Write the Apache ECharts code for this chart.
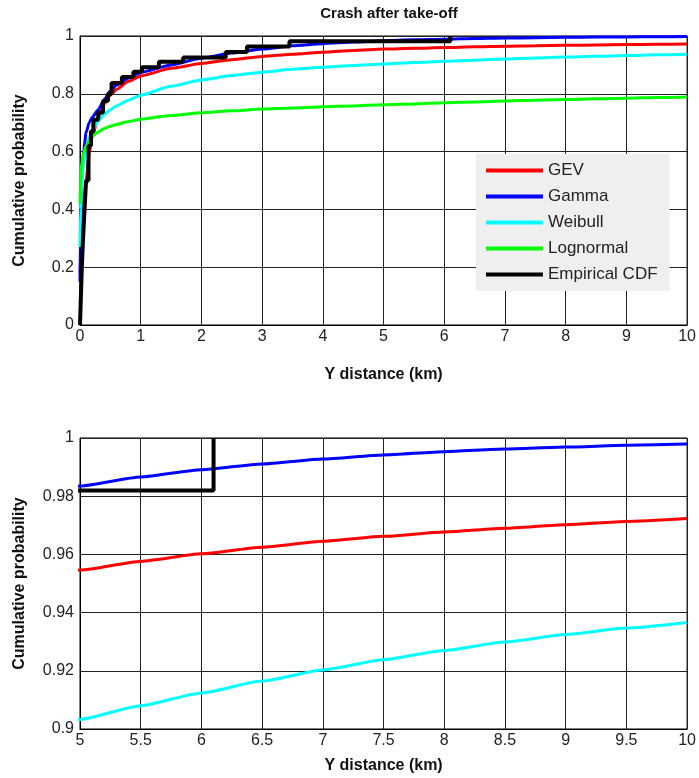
<!DOCTYPE html>
<html>
<head>
<meta charset="utf-8">
<script src="https://cdn.jsdelivr.net/npm/echarts@6/dist/echarts.min.js"></script>
<style>
  html, body { margin: 0; padding: 0; background: #fff; }
  #main { width: 699px; height: 778px; }
</style>
</head>
<body>
<div id="main"></div>
<script>
var xs = [0, 0.01, 0.03, 0.06, 0.1, 0.15, 0.2, 0.3, 0.4, 0.5, 0.6, 0.8, 1, 1.5, 2, 2.5, 3, 3.5, 4, 4.5, 5, 5.5, 6, 6.5, 7, 7.5, 8, 8.5, 9, 9.5, 10];

var gev = [0.18, 0.22, 0.3, 0.4, 0.5, 0.59, 0.65, 0.72, 0.765, 0.795, 0.815, 0.843, 0.862, 0.888, 0.905, 0.918, 0.929, 0.937, 0.944, 0.95, 0.9546, 0.9576, 0.9602, 0.9625, 0.9645, 0.9662, 0.9677, 0.969, 0.9702, 0.9713, 0.9723];
var gamma = [0.15, 0.35, 0.5, 0.6, 0.665, 0.7, 0.718, 0.745, 0.78, 0.81, 0.83, 0.855, 0.874, 0.9, 0.923, 0.941, 0.955, 0.966, 0.9735, 0.979, 0.9835, 0.9866, 0.9891, 0.9911, 0.9928, 0.9942, 0.9953, 0.9962, 0.9969, 0.9975, 0.9979];
var weibull = [0.27, 0.4, 0.5, 0.56, 0.61, 0.648, 0.672, 0.705, 0.728, 0.745, 0.758, 0.778, 0.795, 0.826, 0.848, 0.863, 0.875, 0.885, 0.892, 0.898, 0.9033, 0.908, 0.9124, 0.9165, 0.9203, 0.9238, 0.927, 0.9299, 0.9325, 0.9347, 0.9366];
var lognormal = [0.42, 0.5, 0.56, 0.595, 0.62, 0.638, 0.652, 0.668, 0.68, 0.688, 0.694, 0.704, 0.712, 0.725, 0.734, 0.741, 0.747, 0.751, 0.755, 0.758, 0.762, 0.765, 0.769, 0.772, 0.775, 0.778, 0.78, 0.783, 0.785, 0.787, 0.789];

// empirical CDF: jump location and value after the jump
var ecdfX = [0, 0.03, 0.05, 0.08, 0.1, 0.14, 0.18, 0.22, 0.3, 0.38, 0.46, 0.52, 0.69, 0.88, 1.02, 1.3, 1.7, 2.4, 2.75, 3.45, 6.1];
var ecdfY = [0, 0.2, 0.3, 0.42, 0.5, 0.62, 0.67, 0.71, 0.735, 0.775, 0.8, 0.837, 0.858, 0.876, 0.892, 0.911, 0.926, 0.945, 0.964, 0.982, 1];

var topTicks = { min: 0, max: 10, interval: 1 };
var bottomTicks = { min: 5, max: 10, interval: 0.5 };

var names = ['GEV', 'Gamma', 'Weibull', 'Lognormal', 'Empirical CDF'];
var colors = ['#ff0000', '#0000ff', '#00ffff', '#00ff00', '#000000'];

function pairs(xArr, yArr) {
  var out = [];
  for (var i = 0; i < xArr.length; i++) out.push([xArr[i], yArr[i]]);
  return out;
}

var fits = [gev, gamma, weibull, lognormal];
var labelFont = { fontFamily: 'Liberation Sans', fontSize: 16, color: '#222' };
var nameFont = { fontFamily: 'Liberation Sans', fontSize: 16, fontWeight: 'bold', color: '#111' };

function makeSeries(idx) {
  var list = [];
  fits.forEach(function (arr, i) {
    list.push({
      name: names[i],
      type: 'line',
      xAxisIndex: idx,
      yAxisIndex: idx,
      data: pairs(xs, arr),
      showSymbol: false,
      smooth: 0.2,
      smoothMonotone: 'x',
      color: colors[i],
      lineStyle: { width: 3, color: colors[i] },
      z: 2 + i,
      silent: true
    });
  });
  list.push({
    name: names[4],
    type: 'line',
    xAxisIndex: idx,
    yAxisIndex: idx,
    data: pairs(ecdfX, ecdfY),
    step: 'end',
    showSymbol: false,
    color: colors[4],
    lineStyle: { width: 4, color: colors[4] },
    z: 10,
    silent: true
  });
  return list;
}

function xAxisOf(idx, ticks, gap) {
  return {
    type: 'value', gridIndex: idx, min: ticks.min, max: ticks.max, interval: ticks.interval,
    name: 'Y distance (km)', nameLocation: 'middle', nameGap: gap, nameTextStyle: nameFont,
    axisLine: { show: true, lineStyle: { color: '#000', width: 1 } },
    axisTick: { show: false },
    axisLabel: Object.assign({ margin: 4 }, labelFont),
    splitLine: { show: true, lineStyle: { color: '#222', width: 1 } }
  };
}

function yAxisOf(idx, min, max, interval) {
  return {
    type: 'value', gridIndex: idx, min: min, max: max, interval: interval,
    name: 'Cumulative probability', nameLocation: 'middle', nameGap: 52, nameRotate: 90,
    nameTextStyle: nameFont,
    axisLine: { show: true, lineStyle: { color: '#000', width: 1 } },
    axisTick: { show: false },
    axisLabel: Object.assign({ margin: 6 }, labelFont),
    splitLine: { show: true, lineStyle: { color: '#222', width: 1 } }
  };
}

var chart = echarts.init(document.getElementById('main'), null, { renderer: 'canvas' });
chart.setOption({
  animation: false,
  backgroundColor: '#fff',
  title: {
    text: 'Crash after take-off',
    left: 384, top: 1, textAlign: 'center',
    textStyle: { fontFamily: 'Liberation Sans', fontSize: 15, fontWeight: 'bold', color: '#111' }
  },
  legend: {
    data: names,
    orient: 'vertical',
    left: 476, top: 154,
    backgroundColor: '#efefef',
    padding: [8, 12, 8, 10],
    itemGap: 9,
    itemWidth: 57, itemHeight: 4,
    icon: 'rect',
    selectedMode: false,
    textStyle: { fontFamily: 'Liberation Sans', fontSize: 17, color: '#222', padding: [0, 0, 0, 0] }
  },
  grid: [
    { left: 80, right: 11, top: 36, height: 289, show: true, borderColor: '#000', borderWidth: 1, backgroundColor: 'transparent' },
    { left: 80, right: 10, top: 438, height: 291, show: true, borderColor: '#000', borderWidth: 1, backgroundColor: 'transparent' }
  ],
  xAxis: [xAxisOf(0, topTicks, 42), xAxisOf(1, bottomTicks, 29)],
  yAxis: [yAxisOf(0, 0, 1, 0.2), yAxisOf(1, 0.9, 1, 0.02)],
  series: makeSeries(0).concat(makeSeries(1))
});
</script>
</body>
</html>
